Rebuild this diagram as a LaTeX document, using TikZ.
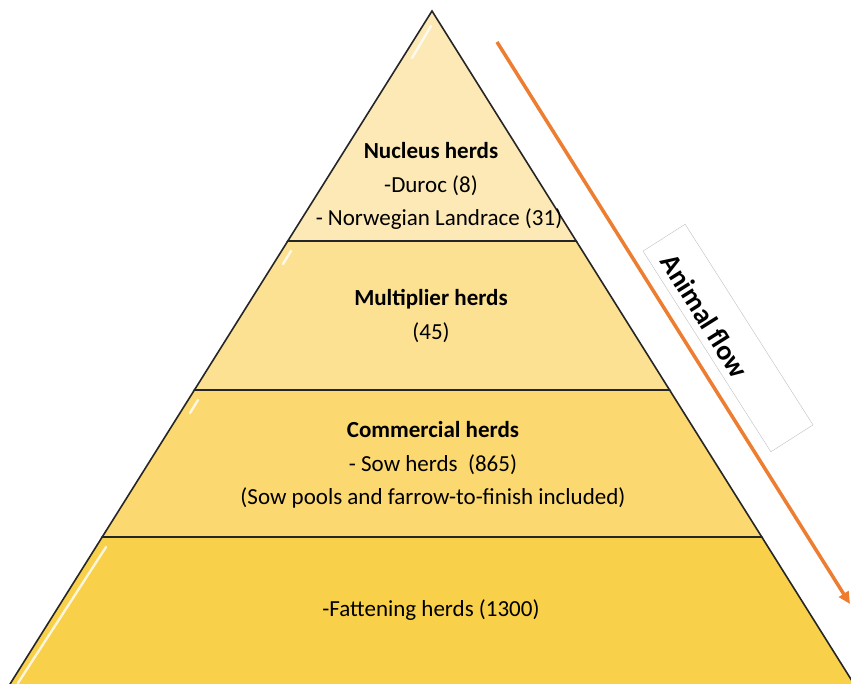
\documentclass[tikz,border=0pt]{standalone}
\usepackage{fontspec}
\setmainfont{Carlito}
\usetikzlibrary{arrows.meta}
\definecolor{tierA}{RGB}{253,233,182}
\definecolor{tierB}{RGB}{252,225,146}
\definecolor{tierC}{RGB}{251,216,112}
\definecolor{tierD}{RGB}{249,208,74}
\definecolor{flow}{RGB}{237,125,49}
\tikzset{
  tier/.style={draw=black!85, line width=1.6pt, line join=miter},
  shine/.style={white, line width=2.4pt, line cap=round, opacity=0.8},
  lbl/.style={font=\fontsize{23}{26}\selectfont, inner sep=0pt, anchor=center},
  head/.style={lbl, font=\fontsize{23}{26}\selectfont\bfseries},
  flowarrow/.style={flow, line width=3.5pt, -{Triangle[length=12pt,width=11pt]}},
  flowbox/.style={draw=black!25, line width=0.4pt, minimum width=238pt, minimum height=50pt, rotate=-57.5},
  flowtext/.style={font=\fontsize{28}{30}\selectfont\bfseries, rotate=-57.9, inner sep=0pt}
}
\begin{document}
\begin{tikzpicture}[x=1pt,y=-1pt]
\useasboundingbox (0,0) rectangle (851,683);
\begin{scope}
  \clip (0,0) rectangle (851,683);
  % four tiers of the pyramid, top to bottom
  \filldraw[tier, fill=tierA] (432,11) -- (576.2,241) -- (287.8,241) -- cycle;
  \filldraw[tier, fill=tierB] (287.8,241) -- (576.2,241) -- (669.6,390) -- (194.4,390) -- cycle;
  \filldraw[tier, fill=tierC] (194.4,390) -- (669.6,390) -- (761.8,537) -- (102.2,537) -- cycle;
  \filldraw[tier, fill=tierD] (102.2,537) -- (761.8,537) -- (864,700) -- (0,700) -- cycle;
  % bevel highlights along the left edges
  \draw[shine] (431,26) -- (412,58);
  \draw[shine] (291,251) -- (283,264);
  \draw[shine] (198,400) -- (190,413);
  \draw[shine] (106,547) -- (18,683);
\end{scope}

% tier labels
\node[head] (nuc) at (431,151) {Nucleus herds};
\node[lbl] (duroc) at (431,186) {-Duroc (8)};
\node[lbl] (landrace) at (439,219) {- Norwegian Landrace (31)};
\node[head] (mult) at (431,299) {Multiplier herds};
\node[lbl] (multn) at (431,333) {(45)};
\node[head] (comm) at (433,430) {Commercial herds};
\node[lbl] (sow) at (433,465) {- Sow herds\ \ (865)};
\node[lbl] (pools) at (433,498) {(Sow pools and farrow-to-finish included)};
\node[lbl] (fat) at (431,610) {-Fattening herds (1300)};

% animal flow arrow with its label box
\coordinate (flowstart) at (497,42);
\coordinate (flowend) at (850,604);
\draw[flowarrow] (flowstart) -- (flowend);
\node[flowbox] (fbox) at (728,338) {};
\node[flowtext] (ftext) at (705,316) {Animal flow};
\end{tikzpicture}
\end{document}
